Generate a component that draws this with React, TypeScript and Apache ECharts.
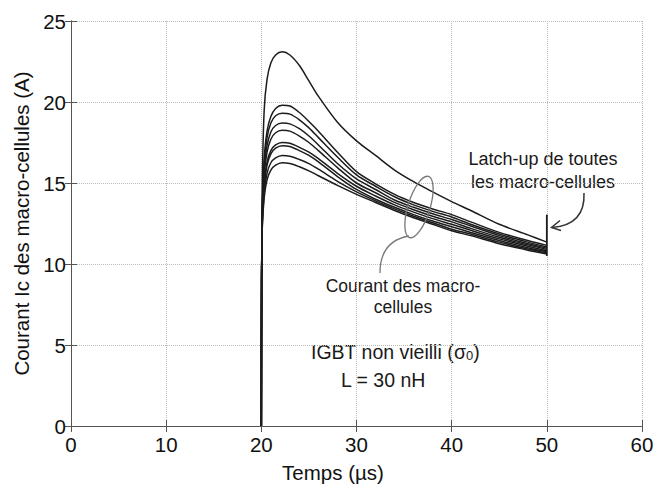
import React, { useEffect, useRef } from "react";
import * as echarts from "echarts";

// Shared time samples (µs)
const timeUs = [20, 20.03, 20.1, 20.3, 20.6, 21, 21.5, 22.2, 23, 24, 25, 26, 28, 30, 32, 34, 36, 38, 40, 42, 45, 48, 50];

// Macro-cell collector currents (A)
const cellTop = [0, 9, 15, 19.5, 21.4, 22.4, 22.9, 23.1, 22.9, 22.25, 21.3, 20.35, 18.75, 17.6, 16.7, 15.8, 15.08, 14.45, 13.85, 13.3, 12.45, 11.8, 11.35];
const cell1 = [0, 9, 13.5, 16.5, 18.2, 19.1, 19.6, 19.8, 19.75, 19.35, 18.8, 18.2, 16.9, 15.7, 14.95, 14.3, 13.8, 13.4, 13.05, 12.6, 11.95, 11.45, 11.15];
const cell2 = [0, 9, 13.3, 16.2, 17.8, 18.7, 19.15, 19.3, 19.25, 18.9, 18.4, 17.8, 16.6, 15.5, 14.8, 14.15, 13.65, 13.25, 12.9, 12.45, 11.85, 11.35, 11.05];
const cell3 = [0, 9, 13.1, 15.8, 17.3, 18.15, 18.55, 18.7, 18.65, 18.35, 17.9, 17.35, 16.2, 15.25, 14.6, 13.95, 13.5, 13.1, 12.75, 12.35, 11.75, 11.25, 10.98];
const cell4 = [0, 9, 12.9, 15.5, 16.9, 17.7, 18.1, 18.25, 18.2, 17.9, 17.5, 17.0, 15.95, 15.0, 14.4, 13.8, 13.35, 12.95, 12.6, 12.2, 11.65, 11.18, 10.9];
const cell5 = [0, 9, 12.7, 15.0, 16.3, 17.0, 17.35, 17.5, 17.45, 17.2, 16.9, 16.5, 15.6, 14.8, 14.2, 13.65, 13.2, 12.8, 12.45, 12.08, 11.55, 11.1, 10.82];
const cell6 = [0, 9, 12.6, 14.8, 16.1, 16.8, 17.15, 17.3, 17.25, 17.0, 16.7, 16.3, 15.4, 14.6, 14.0, 13.5, 13.05, 12.65, 12.3, 11.95, 11.45, 11.0, 10.75];
const cell7 = [0, 9, 12.4, 14.4, 15.6, 16.25, 16.55, 16.7, 16.65, 16.45, 16.2, 15.85, 15.1, 14.45, 13.9, 13.4, 12.95, 12.55, 12.15, 11.85, 11.35, 10.92, 10.68];
const cell8 = [0, 9, 12.2, 14.1, 15.2, 15.8, 16.1, 16.25, 16.2, 16.0, 15.75, 15.45, 14.85, 14.3, 13.8, 13.3, 12.85, 12.45, 12.05, 11.75, 11.25, 10.85, 10.62];

const cellCurves = [cellTop, cell1, cell2, cell3, cell4, cell5, cell6, cell7, cell8];

// Latch-up jump at t = 50 µs
const latchTime = [50, 50];
const latchCurrent = [10.5, 13.05];

const xTicks = { min: 0, max: 60, interval: 10 };
const yTicks = { min: 0, max: 25, interval: 5 };

const FONT = "'Liberation Sans', Arial, Helvetica, sans-serif";

export default function App() {
  const ref = useRef<HTMLDivElement>(null);

  useEffect(() => {
    if (!ref.current) return;
    const chart = echarts.init(ref.current, undefined, { renderer: "svg" });

    const lineSeries = cellCurves.map((vals, i) => ({
      name: "cell" + i,
      type: "line",
      xAxisIndex: 0,
      yAxisIndex: 0,
      data: timeUs.map((t, k) => [t, vals[k]]),
      showSymbol: false,
      smooth: 0.3,
      lineStyle: { color: "#1c1c1c", width: 1.5 },
      z: 3,
    }));

    const gridLine = { show: true, lineStyle: { color: "#bdbdbd", type: "dotted", width: 1 } };
    const axisLine = { show: true, lineStyle: { color: "#555", width: 1 } };
    const tick = { show: true, inside: true, length: 6, lineStyle: { color: "#555" } };

    chart.setOption({
      animation: false,
      backgroundColor: "#ffffff",
      textStyle: { fontFamily: FONT },
      grid: { left: 71, top: 21, right: 26, bottom: 51, containLabel: false },
      xAxis: [
        {
          type: "value",
          ...xTicks,
          position: "bottom",
          name: "Temps (µs)",
          nameLocation: "middle",
          nameGap: 36,
          nameTextStyle: { fontSize: 20.5, color: "#111", fontFamily: FONT, padding: [0, 47, 0, 0] },
          axisLine,
          axisTick: tick,
          axisLabel: { fontSize: 20.5, color: "#111", margin: 8, fontFamily: FONT },
          splitLine: gridLine,
        },
        {
          type: "value",
          ...xTicks,
          position: "top",
          axisLine,
          axisTick: tick,
          axisLabel: { show: false },
          splitLine: { show: false },
        },
      ],
      yAxis: [
        {
          type: "value",
          ...yTicks,
          position: "left",
          name: "Courant Ic des macro-cellules (A)",
          nameLocation: "middle",
          nameGap: 38,
          nameTextStyle: { fontSize: 20.5, color: "#111", fontFamily: FONT },
          axisLine,
          axisTick: tick,
          axisLabel: { fontSize: 20.5, color: "#111", margin: 5, fontFamily: FONT },
          splitLine: gridLine,
        },
        {
          type: "value",
          ...yTicks,
          position: "right",
          axisLine,
          axisTick: tick,
          axisLabel: { show: false },
          splitLine: { show: false },
        },
      ],
      series: [
        ...lineSeries,
        {
          name: "latch",
          type: "line",
          xAxisIndex: 0,
          yAxisIndex: 0,
          data: latchTime.map((t, k) => [t, latchCurrent[k]]),
          showSymbol: false,
          lineStyle: { color: "#1c1c1c", width: 1.8 },
          z: 4,
        },
      ],
      graphic: [
        {
          type: "text",
          x: 543,
          y: 170,
          style: {
            text: "Latch-up de toutes\nles macro-cellules",
            font: `18px ${FONT}`,
            fill: "#1a1a1a",
            align: "center",
            verticalAlign: "middle",
            lineHeight: 23,
          },
        },
        {
          type: "bezierCurve",
          shape: { x1: 584, y1: 193, cpx1: 585, cpy1: 216, cpx2: 572, cpy2: 226, x2: 552, y2: 227.5 },
          style: { stroke: "#333", lineWidth: 1.5, fill: "none" },
        },
        {
          type: "polyline",
          shape: { points: [[560, 220.5], [551.5, 227.5], [561, 230.5]] },
          style: { stroke: "#333", lineWidth: 1.5, fill: "none" },
        },
        {
          type: "ellipse",
          x: 419,
          y: 207,
          rotation: -0.3,
          shape: { cx: 0, cy: 0, rx: 11, ry: 32 },
          style: { stroke: "#777", lineWidth: 1.3, fill: "none" },
          z: 10,
        },
        {
          type: "bezierCurve",
          shape: { x1: 409, y1: 236, cpx1: 386, cpy1: 240, cpx2: 380, cpy2: 256, x2: 380, y2: 273 },
          style: { stroke: "#777", lineWidth: 1.3, fill: "none" },
          z: 10,
        },
        {
          type: "text",
          x: 403,
          y: 296,
          style: {
            text: "Courant des macro-\ncellules",
            font: `17.5px ${FONT}`,
            fill: "#1a1a1a",
            align: "center",
            verticalAlign: "middle",
            lineHeight: 21,
          },
        },
        {
          type: "text",
          x: 311,
          y: 352,
          style: {
            text: "IGBT non vieilli ({s|σ}{sub|0})",
            font: `19.5px ${FONT}`,
            fill: "#1a1a1a",
            align: "left",
            verticalAlign: "middle",
            rich: {
              s: { font: `19.5px ${FONT}`, fill: "#1a1a1a" },
              sub: { font: `13px ${FONT}`, fill: "#1a1a1a", verticalAlign: "bottom", padding: [6, 0, 0, 0] },
            },
          },
        },
        {
          type: "text",
          x: 341,
          y: 380,
          style: {
            text: "L = 30 nH",
            font: `19.5px ${FONT}`,
            fill: "#1a1a1a",
            align: "left",
            verticalAlign: "middle",
          },
        },
      ],
    });

    return () => chart.dispose();
  }, []);

  return (
    <div
      ref={ref}
      style={{ position: "fixed", left: 0, top: 0, width: 668, height: 488, background: "#fff" }}
    />
  );
}
